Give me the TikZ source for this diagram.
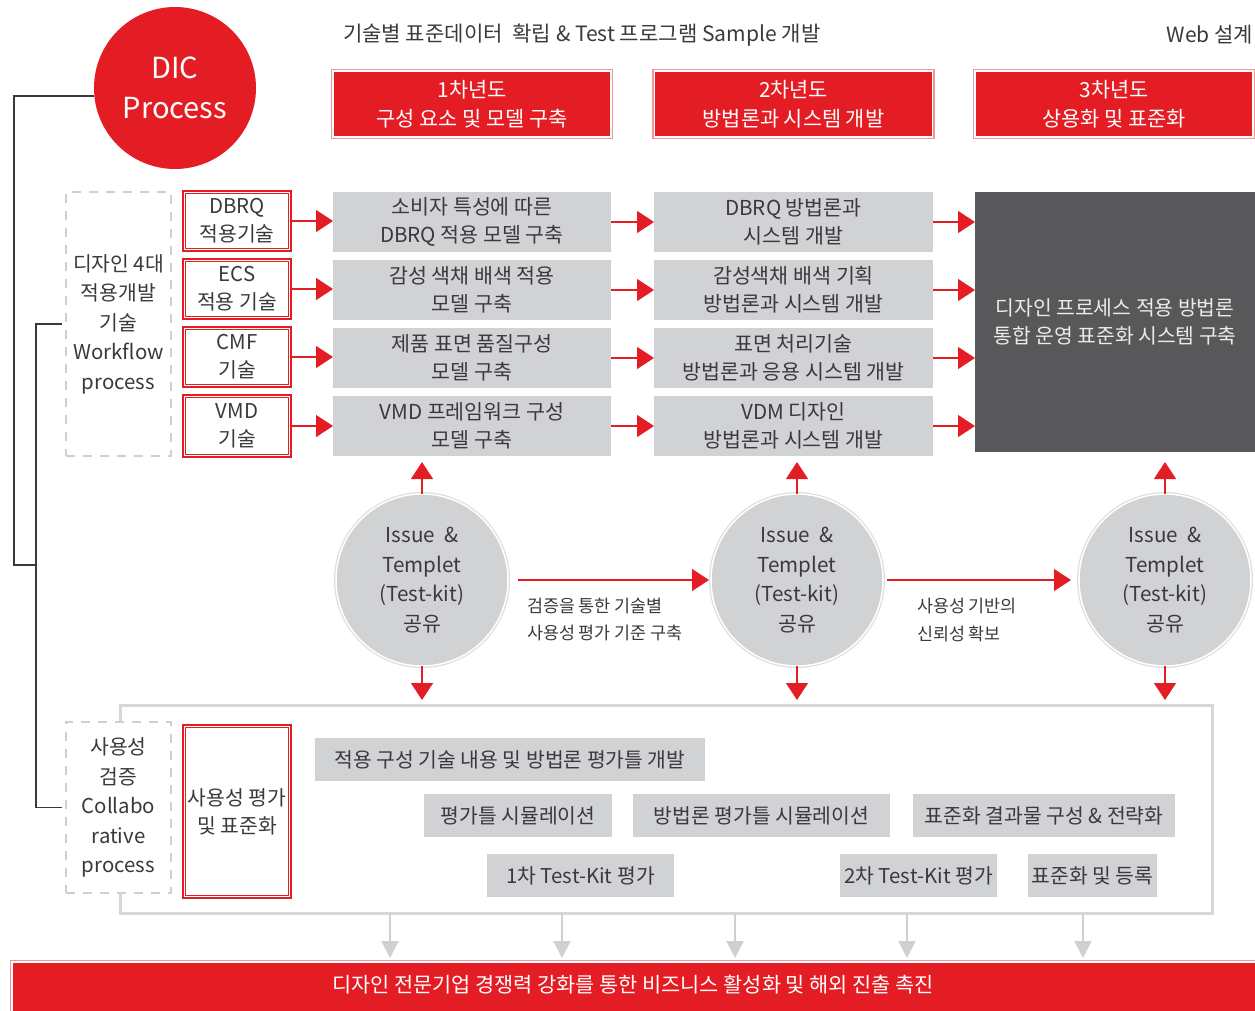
\documentclass[tikz,border=0pt]{standalone}
\usepackage{fontspec}
\setmainfont{Noto Sans CJK KR}
\usetikzlibrary{arrows.meta}
\definecolor{redc}{HTML}{E41D25}
\definecolor{pinkc}{HTML}{F29499}
\definecolor{grayc}{HTML}{D1D2D4}
\definecolor{darkc}{HTML}{58585A}
\definecolor{txtc}{HTML}{3A3A3C}
\definecolor{linec}{HTML}{3A3A3A}
\definecolor{dashc}{HTML}{CFCFCF}
\definecolor{ringc}{HTML}{DEDEDE}
\definecolor{arrc}{HTML}{CFD0D2}
\definecolor{framec}{HTML}{D6D7D8}
\newcommand\myfs[2]{\fontsize{#1}{#2}\selectfont}
\tikzset{
  redtip/.style={-{Triangle[length=17pt,width=22pt]}, draw=redc, line width=1.3pt, color=redc},
  graytip/.style={-{Triangle[length=17pt,width=17pt]}, draw=arrc, line width=2pt, color=arrc},
  hdrbox/.style={fill=redc, draw=white, line width=1.5pt, preaction={draw=pinkc, line width=4.5pt},
    minimum width=278pt, minimum height=66pt, text=white, font=\myfs{20.8}{29}},
  gbox/.style={fill=grayc, minimum height=60pt, font=\myfs{20.6}{28}},
  sbox/.style={fill=grayc, minimum height=43pt, font=\myfs{20.4}{28}},
  dblbox/.style={fill=white, draw=redc, double=white, double distance=1.4pt, line width=0.9pt,
    preaction={draw=redc, line width=5.5pt}, minimum width=105pt, font=\myfs{20.4}{28}},
  dashbox/.style={draw=dashc, line width=2pt, dash pattern=on 9pt off 8pt, fill=white,
    minimum width=105pt, font=\myfs{20.4}{29.5}},
  circbox/.style={circle, fill=grayc, draw=white, line width=1.5pt, preaction={draw=ringc, line width=4pt},
    minimum size=172pt, font=\myfs{20.6}{29.5}},
  bracket/.style={draw=linec, line width=1.2pt},
  lbl/.style={anchor=west, align=left, font=\myfs{17.4}{27.5}},
}
\begin{document}
\begin{tikzpicture}[x=1pt,y=-1pt,
  every node/.style={inner sep=0pt, outer sep=0pt, align=center, text=txtc}]
\useasboundingbox (0,0) rectangle (1255,1010);

% top texts
\node[anchor=west, font=\myfs{21.1}{24}] (toptxt) at (343,35) {기술별 표준데이터\ \ 확립 \& Test 프로그램 Sample 개발};
\node[anchor=east, font=\myfs{21}{24}] (webtxt) at (1253,35) {Web 설계};

% DIC circle
\node[circle, fill=redc, minimum size=162pt, text=white, font=\myfs{29}{40}] (dic) at (175,88) {DIC\\Process};

% header boxes
\node[hdrbox] (y1) at (472,104) {1차년도\\구성 요소 및 모델 구축};
\node[hdrbox] (y2) at (793.5,104) {2차년도\\방법론과 시스템 개발};
\node[hdrbox] (y3) at (1114,104) {3차년도\\상용화 및 표준화};

% left dashed box
\node[dashbox, minimum height=264pt] (wf) at (118.5,324) {디자인 4대\\적용개발\\기술\\Workflow\\process};

% red double boxes
\node[dblbox, minimum height=57pt] (f1) at (237,221) {DBRQ\\적용기술};
\node[dblbox, minimum height=57pt] (f2) at (237,289) {ECS\\적용 기술};
\node[dblbox, minimum height=57pt] (f3) at (237,357) {CMF\\기술};
\node[dblbox, minimum height=59pt] (f4) at (237,426) {VMD\\기술};

% gray column 1
\node[gbox, minimum width=278pt] (g1) at (472,222) {소비자 특성에 따른\\DBRQ 적용 모델 구축};
\node[gbox, minimum width=278pt] (g2) at (472,290) {감성 색채 배색 적용\\모델 구축};
\node[gbox, minimum width=278pt] (g3) at (472,358) {제품 표면 품질구성\\모델 구축};
\node[gbox, minimum width=278pt] (g4) at (472,426) {VMD 프레임워크 구성\\모델 구축};

% gray column 2
\node[gbox, minimum width=279pt] (h1) at (793.5,222) {DBRQ 방법론과\\시스템 개발};
\node[gbox, minimum width=279pt] (h2) at (793.5,290) {감성색채 배색 기획\\방법론과 시스템 개발};
\node[gbox, minimum width=279pt] (h3) at (793.5,358) {표면 처리기술\\방법론과 응용 시스템 개발};
\node[gbox, minimum width=279pt] (h4) at (793.5,426) {VDM 디자인\\방법론과 시스템 개발};

% dark box
\node[fill=darkc, minimum width=280pt, minimum height=260pt, text=white!92!black, font=\myfs{20.4}{28}] (dark) at (1115,322)
  {디자인 프로세스 적용 방법론\\통합 운영 표준화 시스템 구축};

% row arrows
\foreach \i in {1,2,3,4}{
  \draw[redtip] (f\i.east) -- (f\i.east -| g\i.west);
  \draw[redtip] (g\i.east) -- (g\i.east -| h\i.west);
  \draw[redtip] (h\i.east) -- (h\i.east -| dark.west);
}

% bottom frame
\node[draw=framec, line width=3pt, minimum width=1092pt, minimum height=208pt] (frame) at (666,809) {};

% circles
\node[circbox] (c1) at (422,580) {Issue\ \ \&\\Templet\\(Test-kit)\\공유};
\node[circbox] (c2) at (797,580) {Issue\ \ \&\\Templet\\(Test-kit)\\공유};
\node[circbox] (c3) at (1165,580) {Issue\ \ \&\\Templet\\(Test-kit)\\공유};

\draw[redtip, shorten >=6pt] (c1.north) -- (c1.north |- g4.south);
\draw[redtip, shorten >=6pt] (c2.north) -- (c2.north |- h4.south);
\draw[redtip, shorten >=10pt] (c3.north) -- (c3.north |- dark.south);
\draw[redtip, shorten >=5pt] (c1.south) -- (c1.south |- frame.north);
\draw[redtip, shorten >=5pt] (c2.south) -- (c2.south |- frame.north);
\draw[redtip, shorten >=5pt] (c3.south) -- (c3.south |- frame.north);

\draw[redtip, shorten <=10pt, shorten >=2pt] (c1.east) -- (c2.west);
\draw[redtip, shorten <=4pt, shorten >=8pt] (c2.east) -- (c3.west);

\node[lbl] (l1) at (527,619.5) {검증을 통한 기술별\\사용성 평가 기준 구축};
\node[lbl] (l2) at (917,620) {사용성 기반의\\신뢰성 확보};

% bottom left
\node[dashbox, minimum height=171pt] (cp) at (118.5,807.5) {사용성\\검증\\Collabo\\rative\\process};
\node[dblbox, minimum height=170pt] (f5) at (237,811.5) {사용성 평가\\및 표준화};

% bottom gray boxes
\node[sbox, minimum width=390pt] (b1) at (510,759.5) {적용 구성 기술 내용 및 방법론 평가틀 개발};
\node[sbox, minimum width=188pt] (b2) at (518,815.5) {평가틀 시뮬레이션};
\node[sbox, minimum width=257pt] (b3) at (761.5,815.5) {방법론 평가틀 시뮬레이션};
\node[sbox, minimum width=262pt] (b4) at (1044,815.5) {표준화 결과물 구성 \& 전략화};
\node[sbox, minimum width=187pt] (b5) at (580.5,875.5) {1차 Test-Kit 평가};
\node[sbox, minimum width=157pt] (b6) at (918.5,875.5) {2차 Test-Kit 평가};
\node[sbox, minimum width=129pt] (b7) at (1092.5,875.5) {표준화 및 등록};

% bottom red bar
\node[fill=redc, draw=white, line width=1.5pt, preaction={draw=pinkc, line width=4.5pt},
  minimum width=1260pt, minimum height=60pt] (bar) at (642,992) {};
\node[text=white, font=\myfs{20.8}{24}] (bartxt) at (633,985) {디자인 전문기업 경쟁력 강화를 통한 비즈니스 활성화 및 해외 진출 촉진};

% gray arrows
\foreach \k/\xx in {1/390,2/562,3/735,4/907,5/1083}{
  \coordinate (d\k) at (\xx,913);
  \draw[graytip, shorten >=4pt] (d\k) -- (d\k |- bar.north);
}

% brackets
\coordinate (dicpt) at (94,96);
\coordinate (join) at (36,565);
\draw[bracket] (dicpt) -- ++(-80,0) |- (join);
\draw[bracket] ([xshift=-4pt]wf.west) -- ++(-26,0) |- ([xshift=-4pt]cp.west);
\end{tikzpicture}
\end{document}
